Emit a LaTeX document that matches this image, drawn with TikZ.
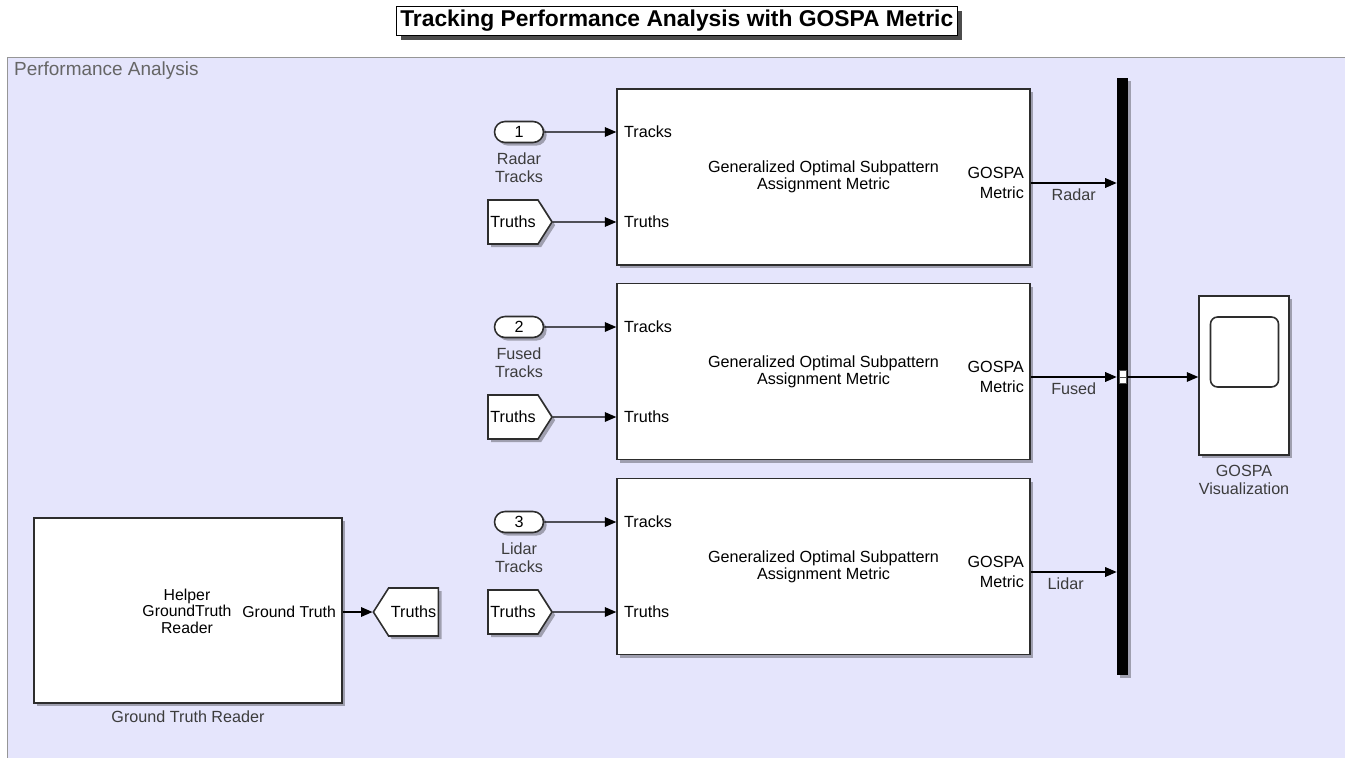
\documentclass[tikz,border=0pt]{standalone}
\usepackage{fontspec}
\setmainfont{Liberation Sans}
\usetikzlibrary{arrows.meta,positioning,calc,shapes.misc,shapes.symbols,shadows}
\definecolor{areafill}{RGB}{229,229,252}
\definecolor{arealine}{RGB}{150,150,150}
\definecolor{blkline}{RGB}{45,45,45}
\definecolor{lbltext}{RGB}{60,60,60}

\begin{document}
\begin{tikzpicture}[x=0.02cm, y=-0.02cm, >={Triangle[length=6.5pt,width=5.5pt]},
  every node/.style={font=\fontsize{9.2}{9.6}\selectfont, inner sep=1pt},
  blkshadow/.style={drop shadow={shadow xshift=1.8pt, shadow yshift=-1.8pt, opacity=0.3, fill=black}},
  blk/.style={draw=blkline, line width=0.9pt, fill=white, blkshadow},
  inport/.style={rounded rectangle, draw=blkline, line width=0.9pt, fill=white, blkshadow, minimum width=0.98cm, minimum height=0.42cm, inner sep=0},
  fromblk/.style={signal, signal to=east, signal pointer angle=115, draw=blkline, line width=0.9pt, fill=white, blkshadow, minimum width=1.28cm, minimum height=0.88cm, inner sep=1pt},
  sig/.style={->, line width=0.6pt},
  lbl/.style={text=lbltext}]
\useasboundingbox (0,0) rectangle (1345,757);

% subsystem area
\node[draw=arealine, fill=areafill, line width=0.8pt, minimum width=26.96cm, minimum height=14.2cm, inner sep=0, anchor=north west] (pa) at (7,57) {};
\node[anchor=west, text=black!60, font=\fontsize{10.8}{11}\selectfont] (palbl) at (12,71) {Performance Analysis};

% title
\node[draw=black, line width=0.8pt, fill=white, inner sep=2.3pt, font=\bfseries\fontsize{13}{13}\selectfont,
  drop shadow={shadow xshift=2.5pt, shadow yshift=-2.5pt, opacity=0.7, fill=black}, anchor=east] (title) at (958,21) {Tracking Performance Analysis with GOSPA Metric};

% bus and scope
\node[fill=black, minimum width=0.22cm, minimum height=11.94cm, inner sep=0, blkshadow] (bus) at (1122.5,376.5) {};
\node[fill=white, draw=black!70, line width=0.3pt, minimum width=0.15cm, minimum height=0.26cm, inner sep=0] (busout) at (1122.5,377) {};
\draw[line width=0.3pt, black!70] (busout.west) -- (busout.east);
\node[blk, minimum width=1.8cm, minimum height=3.18cm, inner sep=0] (scope) at (1244,375.5) {};
\node[draw=blkline, line width=0.9pt, rounded corners=4pt, minimum width=1.36cm, minimum height=1.4cm, inner sep=0] (screen) at (1244.5,352) {};
\node[below=4pt of scope, align=center, lbl, font=\fontsize{9.2}{10.2}\selectfont] (scopelbl) {GOSPA\\Visualization};
\draw[sig] (busout.east) -- (busout.east -| scope.west);

% radar
\node[blk, minimum width=8.26cm, minimum height=3.52cm, align=center] (gospa1) at (823.5,177) {Generalized Optimal Subpattern\\Assignment Metric};
\node[anchor=west] (trk1) at (622,132) {Tracks};
\node[anchor=west] (tru1) at (622,222) {Truths};
\node[anchor=east, align=right, font=\fontsize{9.2}{11.3}\selectfont] (met1) at (1026,183) {GOSPA\\Metric};
\node[inport] (in1) at (519,132) {1};
\node[below=4pt of in1, align=center, lbl, font=\fontsize{9.2}{10.2}\selectfont] (in1lbl) {Radar\\Tracks};
\node[fromblk] (fr1) at (513,222) {Truths};
\draw[sig] (in1) -- (trk1 -| gospa1.west);
\draw[sig] (fr1) -- (tru1 -| gospa1.west);
\draw[sig] (met1 -| gospa1.east) -- (met1 -| bus.west) node[midway, below=2pt, lbl] {Radar};

% fused
\node[blk, minimum width=8.26cm, minimum height=3.52cm, align=center] (gospa2) at (823.5,371.5) {Generalized Optimal Subpattern\\Assignment Metric};
\node[anchor=west] (trk2) at (622,327) {Tracks};
\node[anchor=west] (tru2) at (622,417) {Truths};
\node[anchor=east, align=right, font=\fontsize{9.2}{11.3}\selectfont] (met2) at (1026,377) {GOSPA\\Metric};
\node[inport] (in2) at (519,327) {2};
\node[below=4pt of in2, align=center, lbl, font=\fontsize{9.2}{10.2}\selectfont] (in2lbl) {Fused\\Tracks};
\node[fromblk] (fr2) at (513,417) {Truths};
\draw[sig] (in2) -- (trk2 -| gospa2.west);
\draw[sig] (fr2) -- (tru2 -| gospa2.west);
\draw[sig] (met2 -| gospa2.east) -- (met2 -| bus.west) node[midway, below=2pt, lbl] {Fused};

% lidar
\node[blk, minimum width=8.26cm, minimum height=3.52cm, align=center] (gospa3) at (823.5,566.5) {Generalized Optimal Subpattern\\Assignment Metric};
\node[anchor=west] (trk3) at (622,522) {Tracks};
\node[anchor=west] (tru3) at (622,612) {Truths};
\node[anchor=east, align=right, font=\fontsize{9.2}{11.3}\selectfont] (met3) at (1026,572) {GOSPA\\Metric};
\node[inport] (in3) at (519,522) {3};
\node[below=4pt of in3, align=center, lbl, font=\fontsize{9.2}{10.2}\selectfont] (in3lbl) {Lidar\\Tracks};
\node[fromblk] (fr3) at (513,612) {Truths};
\draw[sig] (in3) -- (trk3 -| gospa3.west);
\draw[sig] (fr3) -- (tru3 -| gospa3.west);
\draw[sig] (met3 -| gospa3.east) -- (met3 -| bus.west) node[midway, below=2pt, xshift=-0.16cm, lbl] {Lidar};

% ground truth reader
\node[blk, minimum width=6.16cm, minimum height=3.7cm, inner sep=0] (gtr) at (188,610.5) {};
\node[align=center, font=\fontsize{9}{9.4}\selectfont] (gtrtxt) at (187,611) {Helper\\GroundTruth\\Reader};
\node[anchor=east, font=\fontsize{9}{9.4}\selectfont] (gtrout) at (338,612) {Ground Truth};
\node[below=3pt of gtr, lbl] (gtrlbl) {Ground Truth Reader};
\node[fromblk, signal to=west, minimum width=1.3cm, minimum height=0.96cm] (goto) at (413.5,612) {Truths};
\draw[sig] (gtrout -| gtr.east) -- (goto.west);
\end{tikzpicture}
\end{document}
